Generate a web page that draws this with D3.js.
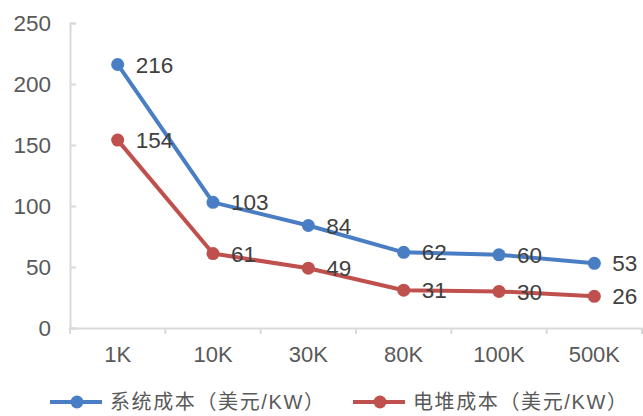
<!DOCTYPE html>
<html>
<head>
<meta charset="utf-8">
<script src="https://cdn.jsdelivr.net/npm/d3@7"></script>
<style>
  html, body { margin: 0; padding: 0; background: #fff; }
  svg { display: block; }
</style>
</head>
<body>
<svg id="chart" width="643" height="416"></svg>
<script>
// Cost per KW at different annual production volumes
const categories = ["1K", "10K", "30K", "80K", "100K", "500K"];
const systemCost = [216, 103, 84, 62, 60, 53];
const stackCost = [154, 61, 49, 31, 30, 26];
const yTicks = [0, 50, 100, 150, 200, 250];
const seriesNames = ["系统成本（美元/KW）", "电堆成本（美元/KW）"];
const seriesColors = ["#4A7EC4", "#C0504D"];

const svg = d3.select("#chart");
const plot = { left: 70, right: 642, top: 23, bottom: 328 };
const font = "Arial, 'Liberation Sans', sans-serif";
const textColor = "#595959";
const axisColor = "#D9D9D9";

const x = d3.scaleBand().domain(categories).range([plot.left, plot.right]);
const y = d3.scaleLinear().domain([0, 250]).range([plot.bottom, plot.top]);

// Y axis
const yAxis = svg.append("g")
  .attr("transform", `translate(${plot.left},0)`)
  .call(d3.axisLeft(y).tickValues(yTicks).tickSize(-6).tickPadding(19));
yAxis.select(".domain").attr("stroke", axisColor).attr("stroke-width", 2);
yAxis.selectAll(".tick line").attr("stroke", axisColor).attr("stroke-width", 2);
yAxis.selectAll(".tick text")
  .attr("fill", textColor).style("font-family", font).style("font-size", "22.5px");

// X axis with ticks on band boundaries
const xAxis = svg.append("g")
  .attr("transform", `translate(0,${plot.bottom})`)
  .call(d3.axisBottom(x).tickSize(0).tickPadding(18));
xAxis.select(".domain").attr("stroke", axisColor).attr("stroke-width", 2);
xAxis.selectAll(".tick text")
  .attr("fill", textColor).style("font-family", font).style("font-size", "22px");
const edges = categories.map(c => x(c)).concat([plot.right]);
xAxis.selectAll(".edge").data(edges).enter().append("line")
  .attr("class", "edge")
  .attr("x1", d => d).attr("x2", d => d)
  .attr("y1", 0).attr("y2", 6)
  .attr("stroke", axisColor).attr("stroke-width", 2);

const cx = c => x(c) + x.bandwidth() / 2;
const line = d3.line().x((d, i) => cx(categories[i])).y(d => y(d));

[systemCost, stackCost].forEach((vals, s) => {
  const g = svg.append("g");
  g.append("path").datum(vals)
    .attr("d", line).attr("fill", "none")
    .attr("stroke", seriesColors[s]).attr("stroke-width", 4)
    .attr("stroke-linejoin", "round");
  g.selectAll("circle").data(vals).enter().append("circle")
    .attr("cx", (d, i) => cx(categories[i])).attr("cy", d => y(d))
    .attr("r", 6.5).attr("fill", seriesColors[s]);
  g.selectAll("text").data(vals).enter().append("text")
    .attr("x", (d, i) => cx(categories[i]) + 18).attr("y", d => y(d))
    .attr("dy", "0.36em")
    .attr("fill", "#404040").style("font-family", font).style("font-size", "22.5px")
    .text(d => d);
});

// Legend
const legendX = [50, 353];
seriesNames.forEach((name, s) => {
  const g = svg.append("g").attr("transform", `translate(${legendX[s]},402)`);
  g.append("line").attr("x1", 0).attr("x2", 52).attr("y1", 0).attr("y2", 0)
    .attr("stroke", seriesColors[s]).attr("stroke-width", 4);
  g.append("circle").attr("cx", 27).attr("cy", 0).attr("r", 6.5).attr("fill", seriesColors[s]);
  g.append("text").attr("x", 60).attr("y", 0).attr("dy", "0.36em")
    .attr("fill", textColor)
    .attr("textLength", 214).attr("lengthAdjust", "spacing")
    .style("font-family", "Arial, 'Liberation Sans', 'Noto Sans CJK SC', sans-serif")
    .style("font-size", "20px")
    .text(name);
});
</script>
</body>
</html>
